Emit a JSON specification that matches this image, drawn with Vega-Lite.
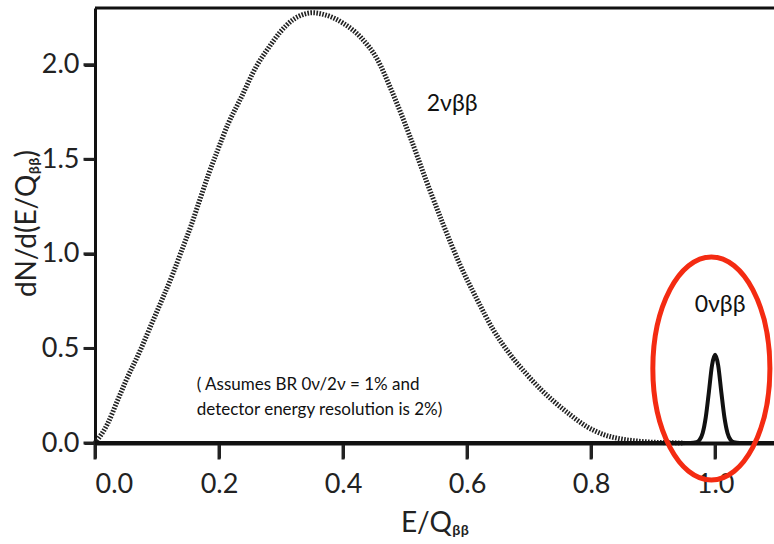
{
  "$schema": "https://vega.github.io/schema/vega-lite/v6.json",
  "width": 679,
  "height": 435,
  "autosize": {"type": "none"},
  "padding": {"left": 95, "top": 8, "right": 0, "bottom": 101},
  "background": "white",
  "config": {
    "view": {"stroke": null},
    "font": "Lato",
    "axis": {
      "ticks": true, "tickColor": "#222", "tickWidth": 3, "tickOpacity": 1, "zindex": 2,
      "labelFontSize": 27, "labelColor": "#222", "labelFont": "Lato",
      "titleFontSize": 28, "titleFont": "Lato", "titleFontWeight": "normal", "titleColor": "#222",
      "domainColor": "#111", "grid": false
    },
    "axisX": {"tickSize": 15, "labelPadding": 13, "titlePadding": 12, "domainWidth": 4},
    "axisY": {"tickSize": 11, "labelPadding": 5, "domainWidth": 3}
  },
  "datasets": {
    "twonu": [
      {"E": 0, "N": 0}, {"E": 0.02, "N": 0.1}, {"E": 0.037, "N": 0.23}, {"E": 0.05, "N": 0.33},
      {"E": 0.073, "N": 0.49}, {"E": 0.09, "N": 0.62}, {"E": 0.108, "N": 0.757}, {"E": 0.125, "N": 0.89},
      {"E": 0.14, "N": 1.02}, {"E": 0.155, "N": 1.15}, {"E": 0.169, "N": 1.286}, {"E": 0.183, "N": 1.42},
      {"E": 0.198, "N": 1.55}, {"E": 0.215, "N": 1.69}, {"E": 0.234, "N": 1.815}, {"E": 0.26, "N": 1.99},
      {"E": 0.28, "N": 2.09}, {"E": 0.298, "N": 2.17}, {"E": 0.32, "N": 2.24}, {"E": 0.335, "N": 2.265},
      {"E": 0.35, "N": 2.275}, {"E": 0.37, "N": 2.265}, {"E": 0.4, "N": 2.22}, {"E": 0.43, "N": 2.14},
      {"E": 0.455, "N": 2.03}, {"E": 0.48, "N": 1.85}, {"E": 0.508, "N": 1.62}, {"E": 0.535, "N": 1.38},
      {"E": 0.561, "N": 1.16}, {"E": 0.589, "N": 0.94}, {"E": 0.616, "N": 0.76}, {"E": 0.642, "N": 0.6},
      {"E": 0.669, "N": 0.47}, {"E": 0.697, "N": 0.36}, {"E": 0.72, "N": 0.28}, {"E": 0.74, "N": 0.22},
      {"E": 0.766, "N": 0.15}, {"E": 0.794, "N": 0.085}, {"E": 0.82, "N": 0.045}, {"E": 0.847, "N": 0.022},
      {"E": 0.875, "N": 0.01}, {"E": 0.9, "N": 0.004}, {"E": 0.93, "N": 0.001}, {"E": 0.95, "N": 0}
    ],
    "zeronu": [
      {"E": 0, "N": 0}, {"E": 0.96, "N": 0}, {"E": 0.97, "N": 0.004}, {"E": 0.975, "N": 0.016},
      {"E": 0.98, "N": 0.053}, {"E": 0.985, "N": 0.137}, {"E": 0.99, "N": 0.27}, {"E": 0.995, "N": 0.41},
      {"E": 1.0, "N": 0.466}, {"E": 1.005, "N": 0.41}, {"E": 1.01, "N": 0.27}, {"E": 1.015, "N": 0.137},
      {"E": 1.02, "N": 0.053}, {"E": 1.025, "N": 0.016}, {"E": 1.03, "N": 0.004}, {"E": 1.04, "N": 0},
      {"E": 1.095, "N": 0}
    ],
    "circle": [{"E": 0.994, "N": 0.394}],
    "peaklabels": [
      {"E": 0.576, "N": 1.79, "label": "2νββ"},
      {"E": 1.008, "N": 0.73, "label": "0νββ"}
    ],
    "notes": [
      {"E": 0.164, "N": 0.307, "label": "( Assumes BR 0ν/2ν = 1% and"},
      {"E": 0.164, "N": 0.175, "label": "detector energy resolution is 2%)"}
    ],
    "frame": [{"N": 2.3}],
    "xticks": [
      {"E": 0, "N": 0}, {"E": 0.2, "N": 0}, {"E": 0.4, "N": 0},
      {"E": 0.6, "N": 0}, {"E": 0.8, "N": 0}, {"E": 1.0, "N": 0}
    ],
    "yticks": [
      {"E": 0, "N": 0}, {"E": 0, "N": 0.5}, {"E": 0, "N": 1.0}, {"E": 0, "N": 1.5}, {"E": 0, "N": 2.0}
    ]
  },
  "layer": [
    {
      "data": {"name": "twonu"},
      "mark": {"type": "line", "color": "#222", "strokeWidth": 5, "strokeDash": [1.6, 1.4], "interpolate": "monotone"},
      "encoding": {
        "x": {
          "field": "E", "type": "quantitative",
          "scale": {"domain": [0, 1.095], "nice": false, "zero": false},
          "axis": {"title": "E/Qᵦᵦ", "values": [0, 0.2, 0.4, 0.6, 0.8, 1.0], "format": ".1f"}
        },
        "y": {
          "field": "N", "type": "quantitative",
          "scale": {"domain": [0, 2.3], "nice": false},
          "axis": {
            "title": "dN/d(E/Qᵦᵦ)", "values": [0, 0.5, 1.0, 1.5, 2.0], "format": ".1f",
            "titleX": -60, "titleY": 215, "titleBaseline": "alphabetic", "titleAngle": -90, "titleAlign": "center"
          }
        }
      }
    },
    {
      "data": {"name": "frame"},
      "mark": {"type": "rule", "color": "#111", "strokeWidth": 3},
      "encoding": {"y": {"field": "N", "type": "quantitative"}}
    },
    {
      "data": {"name": "xticks"},
      "mark": {"type": "point", "shape": "M -0.2,-1 L 0.2,-1 L 0.2,1 L -0.2,1 Z", "size": 225, "filled": true, "fill": "#222", "stroke": null, "opacity": 1, "yOffset": 9},
      "encoding": {
        "x": {"field": "E", "type": "quantitative"},
        "y": {"field": "N", "type": "quantitative"}
      }
    },
    {
      "data": {"name": "yticks"},
      "mark": {"type": "point", "shape": "M -1,-0.27 L 1,-0.27 L 1,0.27 L -1,0.27 Z", "size": 121, "filled": true, "fill": "#222", "stroke": null, "opacity": 1, "xOffset": -6},
      "encoding": {
        "x": {"field": "E", "type": "quantitative"},
        "y": {"field": "N", "type": "quantitative"}
      }
    },
    {
      "data": {"name": "zeronu"},
      "mark": {"type": "line", "color": "#111", "strokeWidth": 4, "interpolate": "monotone"},
      "encoding": {
        "x": {"field": "E", "type": "quantitative"},
        "y": {"field": "N", "type": "quantitative"}
      }
    },
    {
      "data": {"name": "circle"},
      "mark": {
        "type": "point", "filled": false, "stroke": "#f42b12", "strokeWidth": 5, "opacity": 1,
        "shape": "M -0.525,0 A 0.525,1 0 1,1 0.525,0 A 0.525,1 0 1,1 -0.525,0 Z",
        "size": 49729
      },
      "encoding": {
        "x": {"field": "E", "type": "quantitative"},
        "y": {"field": "N", "type": "quantitative"}
      }
    },
    {
      "data": {"name": "peaklabels"},
      "mark": {"type": "text", "fontSize": 23, "font": "Lato", "color": "#111", "align": "center", "baseline": "middle"},
      "encoding": {
        "x": {"field": "E", "type": "quantitative"},
        "y": {"field": "N", "type": "quantitative"},
        "text": {"field": "label"}
      }
    },
    {
      "data": {"name": "notes"},
      "mark": {"type": "text", "fontSize": 17, "font": "Lato", "color": "#111", "align": "left", "baseline": "middle"},
      "encoding": {
        "x": {"field": "E", "type": "quantitative"},
        "y": {"field": "N", "type": "quantitative"},
        "text": {"field": "label"}
      }
    }
  ]
}
